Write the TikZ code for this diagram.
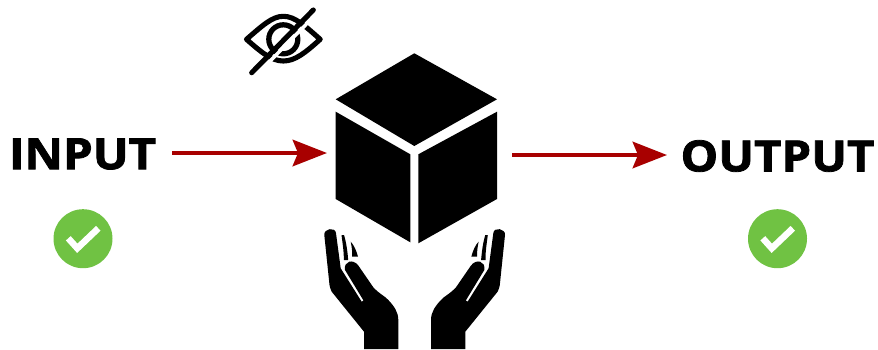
\documentclass[tikz,border=0pt]{standalone}
\usepackage{fontspec}
\usepackage{xcolor}
\usetikzlibrary{arrows.meta}
\setmainfont{Open Sans}
\newfontfamily\wordfont[BoldFeatures={FakeBold=1.8, FakeStretch=1.1}]{Open Sans}
\definecolor{Arrow_Red}{HTML}{A80000}
\definecolor{Check_Green}{HTML}{70C243}

\newcommand{\handshape}{%
    \fill[black] (324.3,235) .. controls (323.5,228.5) and (335.5,226.5) .. (336,233.3)
        -- (340.7,268.3) -- (361.7,301.7) -- (363.5,300.5) -- (345,270)
        .. controls (343.5,261) and (353,258.5) .. (358.3,265.5)
        -- (373.3,287.3) .. controls (380,294.5) and (385,296) .. (388.3,300)
        .. controls (394,306) and (398.3,312) .. (398.3,320)
        -- (398.3,349) -- (364,349) -- (364,331.7) -- (331.7,291.7)
        .. controls (330,288) and (330,287) .. (329.5,285) -- cycle;
    \fill[black] (341.5,235) -- (344,235) .. controls (346.5,243) and (347.5,252) .. (348.2,260)
        -- (343.8,260) .. controls (344,252) and (342.5,243) .. (341.5,235) -- cycle;
    \fill[black] (350.7,241.7) .. controls (354,245) and (356.5,251) .. (358,256.7)
        -- (352.2,256.7) .. controls (352.5,251) and (351.5,246) .. (350.7,241.7) -- cycle;
}

\begin{document}
\begin{tikzpicture}[x=0.02cm, y=-0.02cm, >=Stealth,
    word/.style={font=\wordfont\bfseries\fontsize{24.5}{24.5}\selectfont, inner sep=0pt, text=black},
    flow/.style={-{Stealth[length=19.5pt, width=15pt, inset=3pt]}, line width=2.5pt, Arrow_Red},
    okdisc/.style={fill=Check_Green},
    oktick/.style={draw=white, line width=3.7pt}]
    \useasboundingbox (0,0) rectangle (878,349);

    % Labels
    \node[word] (input) at (82.5,154) {INPUT};
    \node[word] (output) at (777.5,156) {OUTPUT};

    % Cube faces
    \fill[black] (414.3,53.3) -- (497,99.3) -- (414.3,146) -- (335.7,99.3) -- cycle;
    \fill[black] (335.7,111.7) -- (410.3,154.3) -- (410.3,242.3) -- (335.7,199) -- cycle;
    \fill[black] (497,111.7) -- (418.3,154.3) -- (418.3,243.3) -- (497,199) -- cycle;

    % Arrow ends
    \coordinate (inputout) at (172,153);
    \coordinate (cubein) at (327,153);
    \coordinate (cubeout) at (512,155);
    \coordinate (outputin) at (667,155);

    % Arrows
    \draw[flow] (inputout) -- (cubein);
    \draw[flow] (cubeout) -- (outputin);

    % Check marks
    \fill[okdisc] (83,238.7) circle (29.5);
    \draw[oktick] (68.3,238.3) -- (77.3,248.3) -- (98.3,228.3);
    \fill[okdisc] (777.5,238.7) circle (29.5);
    \draw[oktick] (762.8,238.3) -- (771.8,248.3) -- (792.8,228.3);

    % Hands
    \handshape
    \begin{scope}[shift={(829.3,0)}, xscale=-1]
        \handshape
    \end{scope}

    % Crossed eye
    \draw[black, line width=2.9pt, line join=round] (246.5,39.3)
        .. controls (262,26) and (272,16.3) .. (283.3,16.3)
        .. controls (295,16.3) and (305,26) .. (320.2,39.3)
        .. controls (305,53) and (295,61) .. (283.3,61)
        .. controls (272,61) and (262,53) .. (246.5,39.3) -- cycle;
    \draw[black, line width=3pt] (283.3,39.3) circle (14.5);
    \draw[white, line width=2pt] (255.2,76.2) -- (316.8,13.5);
    \draw[black, line width=2.9pt, line cap=round] (251.7,72.7) -- (313.3,10);
\end{tikzpicture}
\end{document}
